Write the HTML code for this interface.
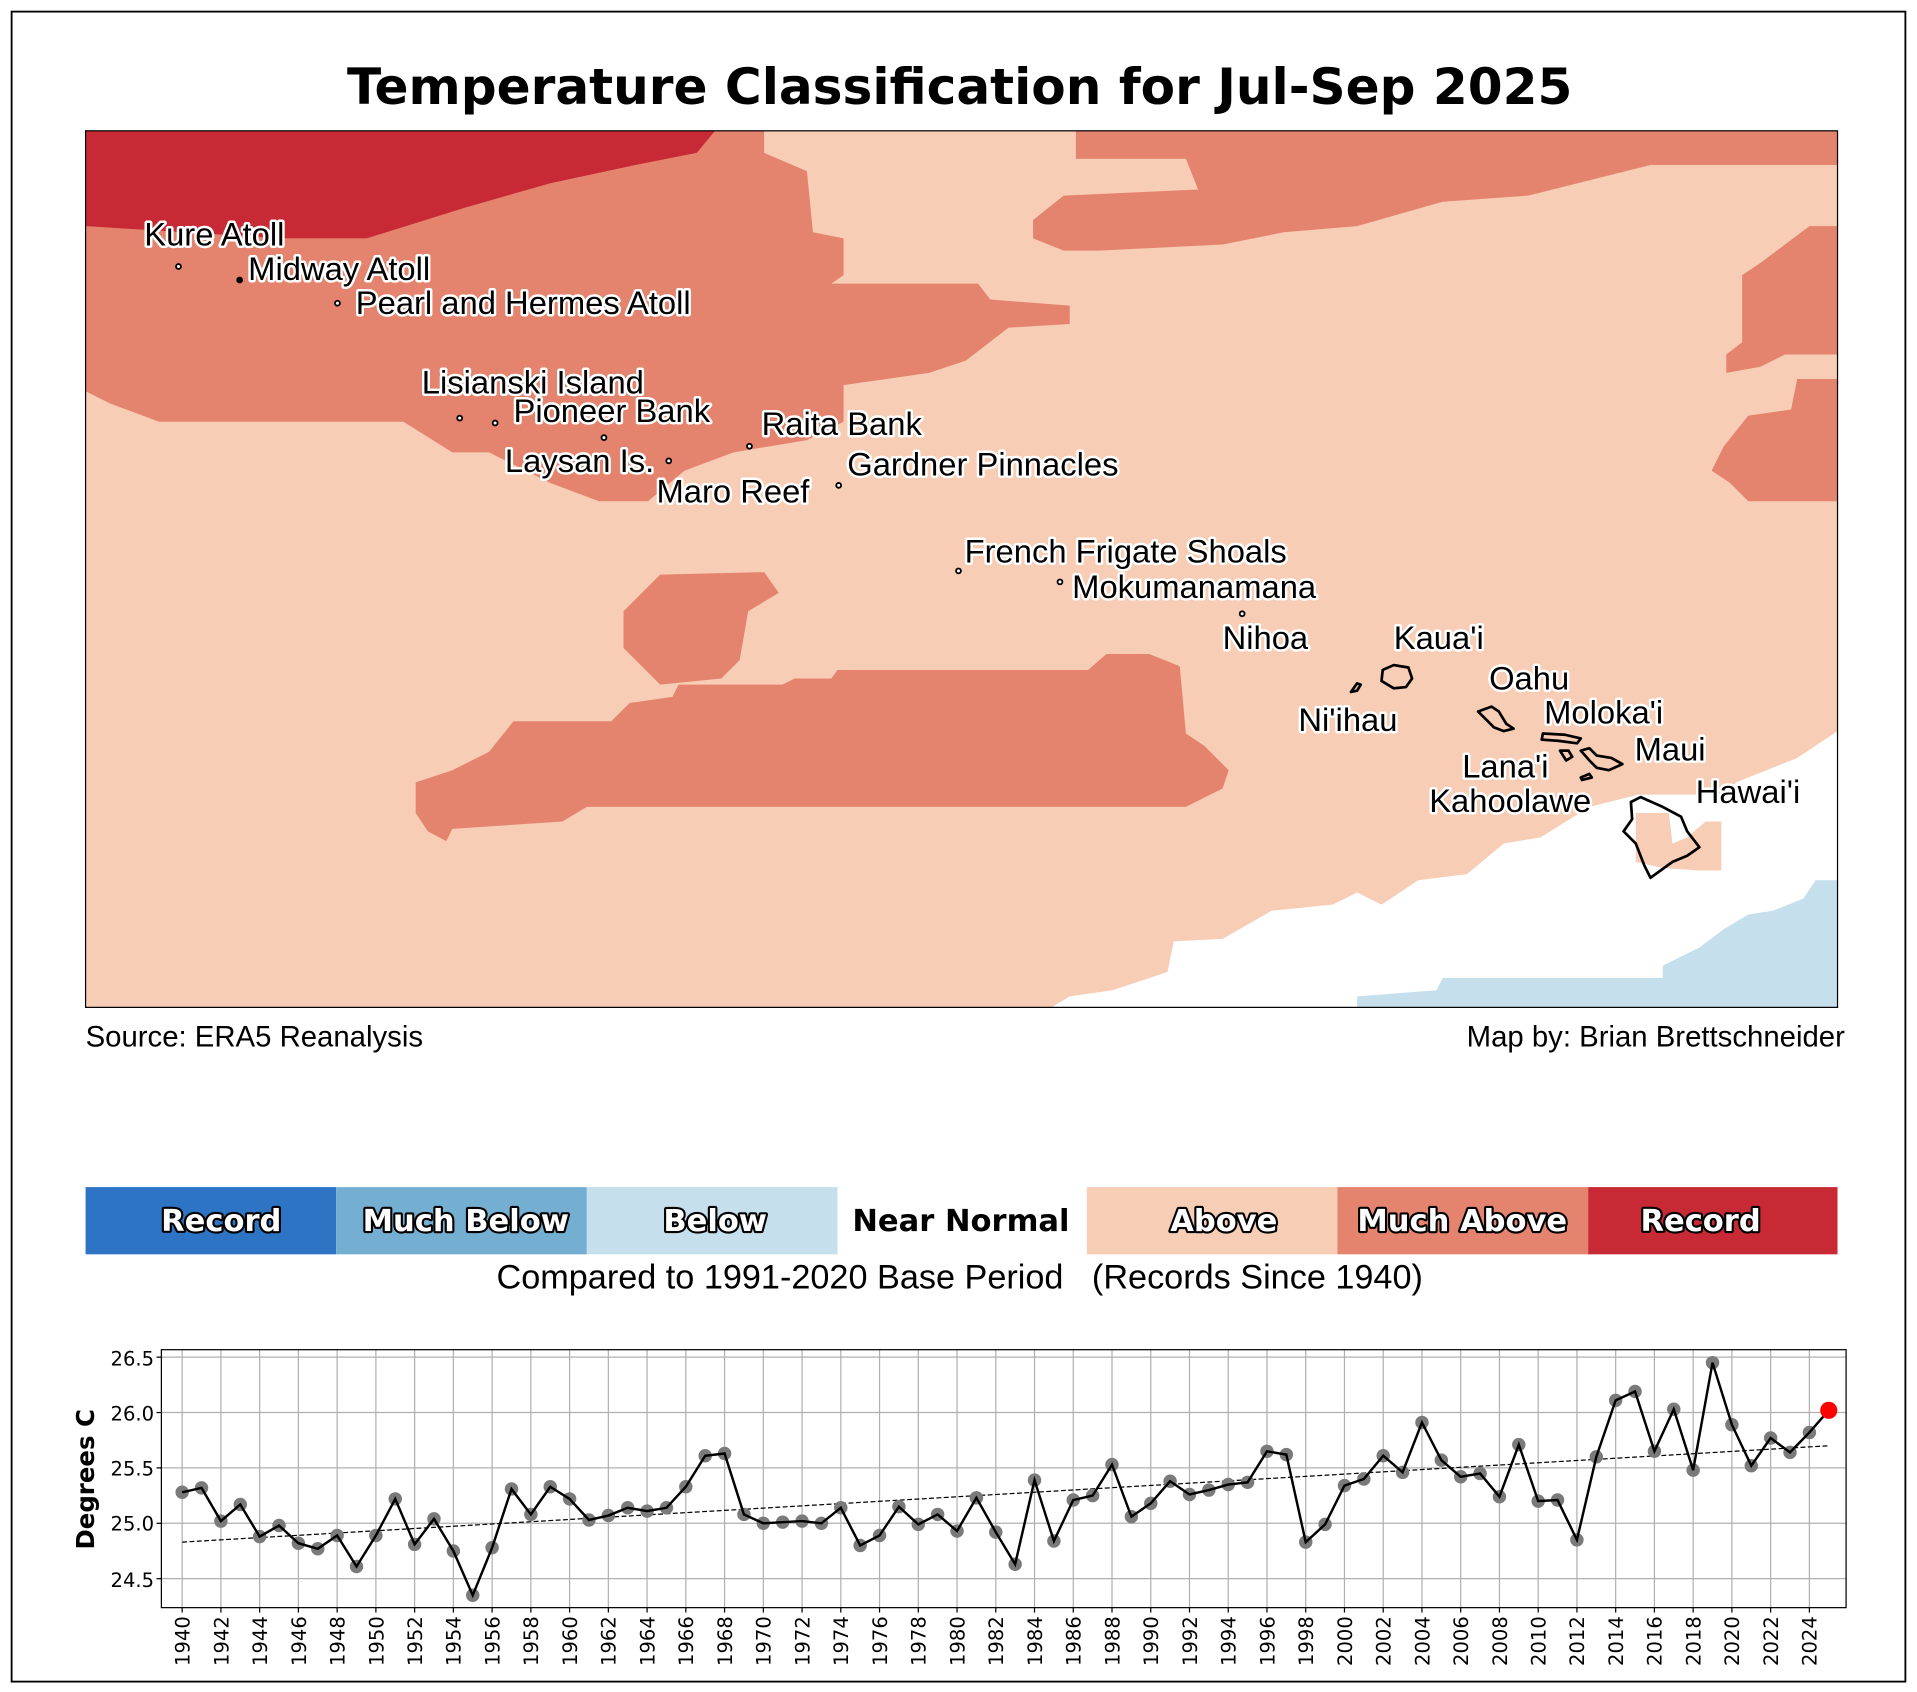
<!DOCTYPE html>
<html><head><meta charset="utf-8"><style>
html,body{margin:0;padding:0;background:#fff;}
svg{display:block;}
.lbl{font-family:"Liberation Sans",Arial,sans-serif;font-size:26.8px;fill:#000;stroke:#fff;stroke-width:4px;paint-order:stroke;stroke-linejoin:round;}
.leg{font-family:"DejaVu Sans",sans-serif;font-weight:bold;font-size:25px;text-anchor:middle;fill:#fff;stroke:#000;stroke-width:3.5px;paint-order:stroke;stroke-linejoin:round;}
.tk{font-family:"DejaVu Sans",sans-serif;font-size:16px;fill:#000;}
</style></head><body>
<svg id="s" width="1917" height="1692" viewBox="0 0 1568 1384" preserveAspectRatio="none" xmlns="http://www.w3.org/2000/svg">
<rect x="0" y="0" width="1568" height="1384" fill="#fff"/>
<rect x="9.5" y="9.5" width="1549" height="1366" fill="none" stroke="#000" stroke-width="1.5"/>
<text x="785" y="85" text-anchor="middle" font-family="DejaVu Sans,sans-serif" font-weight="bold" font-size="41">Temperature Classification for Jul-Sep 2025</text>

<!-- map -->
<rect x="70" y="107" width="1433" height="717" fill="#f8cdb6"/>
<polygon fill="#e5846e" points="70,185 230,195 300,195 380,170 450,150 520,135 570,125 585,107 625,107 625,125 660,140 665,190 690,195 690,225 680,232 800,232 810,245 875,250 875,265 825,268 790,295 760,305 690,315 690,345 660,360 600,370 560,385 530,410 490,410 450,395 400,370 370,370 330,345 130,345 90,330 70,320"/>
<polygon fill="#c72a35" points="70,107 585,107 570,125 520,135 450,150 380,170 300,195 230,195 70,185"/>
<polygon fill="#e5846e" points="880,107 1503,107 1503,135 1350,135 1250,160 1180,165 1110,185 1050,190 1000,200 900,205 870,205 845,195 845,180 870,160 980,155 970,130 880,130"/>
<polygon fill="#e5846e" points="1503,185 1480,185 1460,200 1440,215 1425,225 1425,280 1412,290 1412,305 1440,300 1460,290 1503,290"/>
<polygon fill="#e5846e" points="1503,310 1470,310 1465,335 1430,340 1410,365 1400,385 1415,395 1430,410 1503,410"/>
<polygon fill="#e5846e" points="520,490 540,470 625,468 637,485 612,500 605,540 590,555 540,560 510,530 510,500"/>
<polygon fill="#e5846e" points="340,640 370,630 400,615 420,590 500,590 515,575 550,570 555,560 640,560 650,555 680,555 685,548 890,548 905,535 940,535 965,545 970,600 985,610 1005,630 1000,645 970,660 480,660 460,672 370,678 365,688 350,680 340,665"/>
<polygon fill="#fff" points="860,824 875,815 910,810 955,795 960,770 1000,768 1040,745 1090,740 1110,730 1130,740 1160,720 1200,715 1230,690 1260,685 1300,660 1340,650 1410,650 1420,640 1470,620 1503,598 1503,824"/>
<polygon fill="#f8cdb6" points="1338,665 1365,665 1368,690 1380,685 1395,672 1408,672 1408,712 1390,712 1360,710 1338,705"/>
<polygon fill="#c6dfec" points="1110,824 1110,815 1175,810 1180,800 1360,800 1360,790 1390,775 1410,760 1430,748 1450,745 1475,735 1485,720 1503,720 1503,824"/>
<rect x="70" y="107" width="1433" height="717" fill="none" stroke="#000" stroke-width="1"/>

<!-- islands -->
<g fill="none" stroke="#000" stroke-width="2.2" stroke-linejoin="round">
<path d="M1131,548 L1140,544 L1152,546 L1155,555 L1150,562 L1140,563 L1130,557 Z"/>
<path d="M1105,566 L1110,559 L1113,560 L1110,565 Z"/>
<path d="M1209,582 L1220,578 L1226,582 L1232,592 L1238,596 L1230,598 L1222,595 L1215,588 Z"/>
<path d="M1262,600 L1280,601 L1293,604 L1290,608 L1275,606 L1261,605 Z"/>
<path d="M1276,614 L1283,614 L1286,619 L1281,622 Z"/>
<path d="M1293,614 L1300,612 L1306,618 L1318,620 L1327,625 L1316,630 L1306,628 L1300,622 Z"/>
<path d="M1293,636 L1300,633 L1302,636 L1294,638 Z"/>
<path d="M1334,656 L1342,652 L1360,660 L1375,668 L1380,680 L1390,693 L1380,700 L1368,705 L1350,718 L1345,708 L1338,690 L1328,680 L1335,670 Z"/>
</g>

<!-- labels -->
<g class="lbl">
<text x="118" y="201">Kure Atoll</text>
<text x="203" y="229">Midway Atoll</text>
<text x="291" y="257">Pearl and Hermes Atoll</text>
<text x="345" y="322">Lisianski Island</text>
<text x="420" y="345">Pioneer Bank</text>
<text x="623" y="356">Raita Bank</text>
<text x="413" y="386">Laysan Is.</text>
<text x="693" y="389">Gardner Pinnacles</text>
<text x="537" y="411">Maro Reef</text>
<text x="789" y="460">French Frigate Shoals</text>
<text x="877" y="489">Mokumanamana</text>
<text x="1000" y="531">Nihoa</text>
<text x="1140" y="531">Kaua'i</text>
<text x="1218" y="564">Oahu</text>
<text x="1263" y="592">Moloka'i</text>
<text x="1062" y="598">Ni'ihau</text>
<text x="1337" y="622">Maui</text>
<text x="1196" y="636">Lana'i</text>
<text x="1169" y="664">Kahoolawe</text>
<text x="1387" y="657">Hawai'i</text>
</g>
<g fill="#fff" stroke="#000" stroke-width="1.5">
<circle cx="146" cy="218" r="2"/><circle cx="196" cy="229" r="2" fill="#000"/><circle cx="276" cy="248" r="2"/>
<circle cx="376" cy="342" r="2"/><circle cx="405" cy="346" r="2"/><circle cx="494" cy="358" r="2"/>
<circle cx="547" cy="377" r="2"/><circle cx="613" cy="365" r="2"/><circle cx="686" cy="397" r="2"/>
<circle cx="784" cy="467" r="2"/><circle cx="867" cy="476" r="2"/><circle cx="1016" cy="502" r="2"/>
</g>

<text x="70" y="856" font-family="Liberation Sans,sans-serif" font-size="24">Source: ERA5 Reanalysis</text>
<text x="1509" y="856" text-anchor="end" font-family="Liberation Sans,sans-serif" font-size="24">Map by: Brian Brettschneider</text>

<!-- legend -->
<rect x="70" y="971" width="205" height="55" fill="#2d75c4"/>
<rect x="275" y="971" width="205" height="55" fill="#74aed1"/>
<rect x="480" y="971" width="205" height="55" fill="#c6dfec"/>
<rect x="889" y="971" width="205" height="55" fill="#f8cdb6"/>
<rect x="1094" y="971" width="205" height="55" fill="#e5846e"/>
<rect x="1299" y="971" width="204" height="55" fill="#c72a35"/>
<g class="leg">
<text x="181" y="1007">Record</text>
<text x="381" y="1007">Much Below</text>
<text x="585" y="1007">Below</text>
<text x="1001" y="1007">Above</text>
<text x="1196" y="1007">Much Above</text>
<text x="1391" y="1007">Record</text>
</g>
<text x="786" y="1007" text-anchor="middle" font-family="DejaVu Sans,sans-serif" font-weight="bold" font-size="25">Near Normal</text>
<text x="785" y="1054" text-anchor="middle" font-family="Liberation Sans,sans-serif" font-size="28" xml:space="preserve">Compared to 1991-2020 Base Period   (Records Since 1940)</text>

<!-- chart -->
<g id="grid" stroke="#b0b0b0" stroke-width="1"></g>
<g class="tk" text-anchor="end">
<text x="126" y="1117">26.5</text><text x="126" y="1162">26.0</text><text x="126" y="1207">25.5</text><text x="126" y="1252">25.0</text><text x="126" y="1298">24.5</text>
</g>
<text transform="translate(77,1210) rotate(-90)" text-anchor="middle" font-family="DejaVu Sans,sans-serif" font-weight="bold" font-size="20">Degrees C</text>
<g class="tk" text-anchor="end" id="xt">
<text transform="translate(155,1322) rotate(-90)">1940</text><text transform="translate(186.7,1322) rotate(-90)">1942</text><text transform="translate(218.4,1322) rotate(-90)">1944</text><text transform="translate(250.1,1322) rotate(-90)">1946</text><text transform="translate(281.8,1322) rotate(-90)">1948</text><text transform="translate(313.5,1322) rotate(-90)">1950</text><text transform="translate(345.1,1322) rotate(-90)">1952</text><text transform="translate(376.8,1322) rotate(-90)">1954</text><text transform="translate(408.5,1322) rotate(-90)">1956</text><text transform="translate(440.2,1322) rotate(-90)">1958</text><text transform="translate(471.9,1322) rotate(-90)">1960</text><text transform="translate(503.6,1322) rotate(-90)">1962</text><text transform="translate(535.3,1322) rotate(-90)">1964</text><text transform="translate(567,1322) rotate(-90)">1966</text><text transform="translate(598.7,1322) rotate(-90)">1968</text><text transform="translate(630.4,1322) rotate(-90)">1970</text><text transform="translate(662,1322) rotate(-90)">1972</text><text transform="translate(693.7,1322) rotate(-90)">1974</text><text transform="translate(725.4,1322) rotate(-90)">1976</text><text transform="translate(757.1,1322) rotate(-90)">1978</text><text transform="translate(788.8,1322) rotate(-90)">1980</text><text transform="translate(820.5,1322) rotate(-90)">1982</text><text transform="translate(852.2,1322) rotate(-90)">1984</text><text transform="translate(883.9,1322) rotate(-90)">1986</text><text transform="translate(915.6,1322) rotate(-90)">1988</text><text transform="translate(947.3,1322) rotate(-90)">1990</text><text transform="translate(978.9,1322) rotate(-90)">1992</text><text transform="translate(1010.6,1322) rotate(-90)">1994</text><text transform="translate(1042.3,1322) rotate(-90)">1996</text><text transform="translate(1074,1322) rotate(-90)">1998</text><text transform="translate(1105.7,1322) rotate(-90)">2000</text><text transform="translate(1137.4,1322) rotate(-90)">2002</text><text transform="translate(1169.1,1322) rotate(-90)">2004</text><text transform="translate(1200.8,1322) rotate(-90)">2006</text><text transform="translate(1232.5,1322) rotate(-90)">2008</text><text transform="translate(1264.2,1322) rotate(-90)">2010</text><text transform="translate(1295.8,1322) rotate(-90)">2012</text><text transform="translate(1327.5,1322) rotate(-90)">2014</text><text transform="translate(1359.2,1322) rotate(-90)">2016</text><text transform="translate(1390.9,1322) rotate(-90)">2018</text><text transform="translate(1422.6,1322) rotate(-90)">2020</text><text transform="translate(1454.3,1322) rotate(-90)">2022</text><text transform="translate(1486,1322) rotate(-90)">2024</text>
</g>
<g id="data"></g>
<rect x="132" y="1104" width="1378" height="211" fill="none" stroke="#000" stroke-width="1"/>
</svg>
<script>
var v=[25.28,25.32,25.02,25.17,24.88,24.98,24.82,24.77,24.89,24.61,24.89,25.22,24.81,25.04,24.75,24.35,24.78,25.31,25.08,25.33,25.22,25.03,25.07,25.14,25.11,25.14,25.33,25.61,25.63,25.08,25.00,25.01,25.02,25.00,25.14,24.80,24.89,25.15,24.99,25.08,24.93,25.23,24.92,24.63,25.39,24.84,25.21,25.25,25.53,25.06,25.18,25.38,25.26,25.30,25.35,25.37,25.65,25.62,24.83,24.99,25.34,25.40,25.61,25.46,25.91,25.57,25.42,25.45,25.24,25.71,25.20,25.21,24.85,25.60,26.11,26.19,25.65,26.03,25.48,26.45,25.89,25.52,25.77,25.64,25.82,26.02];
var NS="http://www.w3.org/2000/svg";
function X(i){return 149+15.845*i;}function Y(t){return 1246-(t-25)*90.6;}
function el(n,a,p){var e=document.createElementNS(NS,n);for(var k in a)e.setAttribute(k,a[k]);p.appendChild(e);return e;}
var g=document.getElementById('grid'),d=document.getElementById('data');
for(var i=0;i<=84;i+=2){el('line',{x1:X(i),x2:X(i),y1:1104,y2:1315},g);el('line',{x1:X(i),x2:X(i),y1:1315,y2:1319,stroke:'#000'},g);}
[26.5,26,25.5,25,24.5].forEach(function(t){el('line',{x1:132,x2:1510,y1:Y(t),y2:Y(t)},g);el('line',{x1:128,x2:132,y1:Y(t),y2:Y(t),stroke:'#000'},g);});
el('line',{x1:X(0),y1:Y(24.83),x2:X(85),y2:Y(25.70),stroke:'#000','stroke-width':1,'stroke-dasharray':'4,2'},d);
for(var i=0;i<85;i++)el('circle',{cx:X(i),cy:Y(v[i]),r:5.5,fill:'#7a7a7a'},d);
var pts=v.map(function(t,i){return X(i)+','+Y(t);}).join(' ');
el('polyline',{points:pts,fill:'none',stroke:'#000','stroke-width':2},d);
el('circle',{cx:X(85),cy:Y(v[85]),r:7,fill:'#ff0000'},d);
</script>
</body></html>
